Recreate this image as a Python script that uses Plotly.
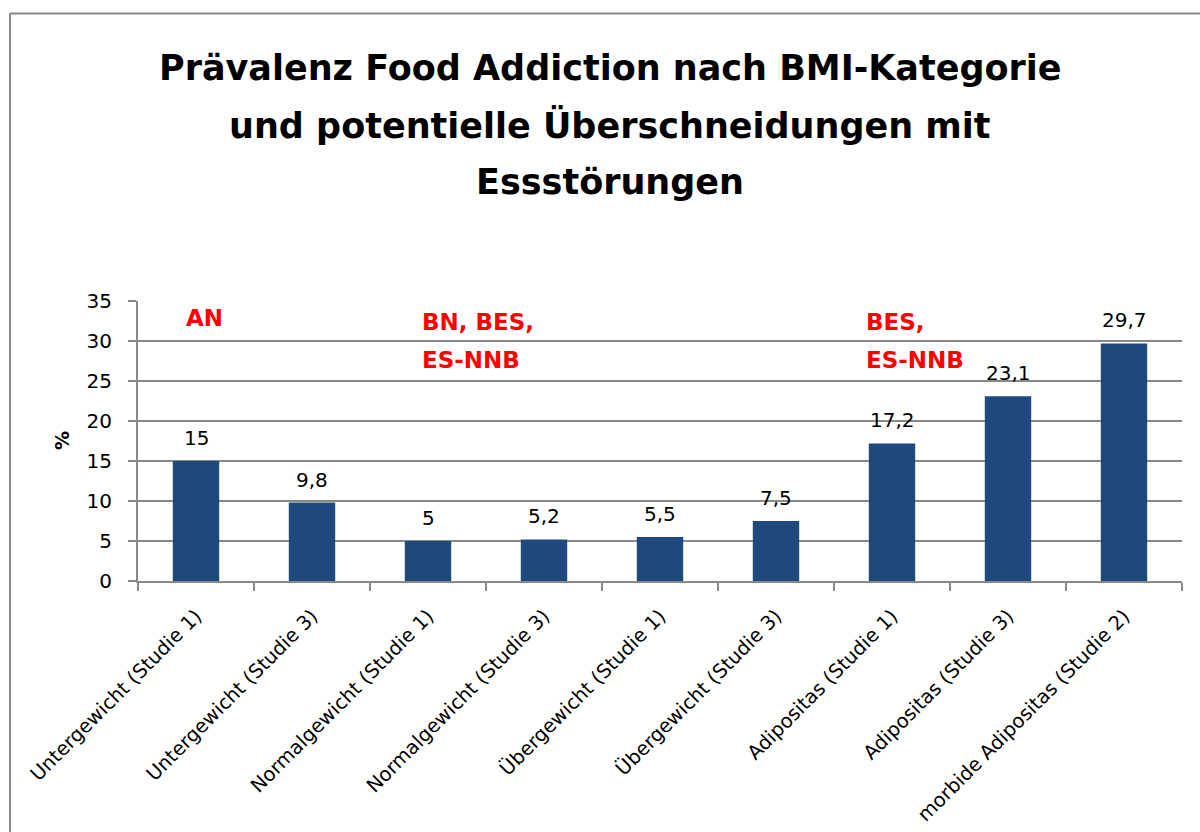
import plotly.graph_objects as go

# Food-addiction prevalence per BMI category (values in %)
categories = [
    "Untergewicht (Studie 1)",
    "Untergewicht (Studie 3)",
    "Normalgewicht (Studie 1)",
    "Normalgewicht (Studie 3)",
    "Übergewicht (Studie 1)",
    "Übergewicht (Studie 3)",
    "Adipositas (Studie 1)",
    "Adipositas (Studie 3)",
    "morbide Adipositas (Studie 2)",
]
prevalence = [15, 9.8, 5, 5.2, 5.5, 7.5, 17.2, 23.1, 29.7]
value_labels = ["15", "9,8", "5", "5,2", "5,5", "7,5", "17,2", "23,1", "29,7"]

y_ticks = [0, 5, 10, 15, 20, 25, 30, 35]

title_lines = [
    "Prävalenz Food Addiction nach BMI-Kategorie",
    "und potentielle Überschneidungen mit",
    "Essstörungen",
]

# Eating-disorder overlap notes: (text lines, left x position on category axis, y values)
overlap_notes = [
    (["AN"], -0.10, [32.9]),
    (["BN, BES,", "ES-NNB"], 1.93, [32.4, 27.6]),
    (["BES,", "ES-NNB"], 5.76, [32.4, 27.6]),
]

FONT = "DejaVu Sans"
BAR_COLOR = "#1F497D"
GRID = "#898989"

plot_left, plot_right = 138, 1182
plot_top, plot_bottom = 301, 581.5
pw = plot_right - plot_left
ph = plot_bottom - plot_top


def py_to_paper(py):
    return (plot_bottom - py) / ph


def px_to_paper(px):
    return (px - plot_left) / pw


fig = go.Figure(
    go.Bar(
        x=categories,
        y=prevalence,
        marker=dict(color=BAR_COLOR, line=dict(width=0)),
        width=0.4,
        hoverinfo="x+y",
    )
)

annotations = []

# title, one annotation per line
for i, line in enumerate(title_lines):
    annotations.append(dict(
        x=px_to_paper(610), y=py_to_paper(68 + 57 * i), xref="paper", yref="paper",
        text=f"<b>{line}</b>", showarrow=False, xanchor="center", yanchor="middle",
        font=dict(family=FONT, size=35, color="black"),
    ))

for cat, val, lab in zip(categories, prevalence, value_labels):
    annotations.append(dict(
        x=cat, y=val, xref="x", yref="y", text=lab, showarrow=False,
        yanchor="bottom", yshift=9,
        font=dict(family=FONT, size=20, color="black"),
    ))

for lines, xpos, ys in overlap_notes:
    for line, yv in zip(lines, ys):
        annotations.append(dict(
            x=xpos, y=yv, xref="x", yref="y", text=f"<b>{line}</b>",
            showarrow=False, xanchor="left", yanchor="middle",
            font=dict(family=FONT, size=23, color="#ff0000"),
        ))

# y-axis title
annotations.append(dict(
    x=px_to_paper(62), y=0.5, xref="paper", yref="paper", text="<b>%</b>",
    showarrow=False, textangle=-90, xanchor="center", yanchor="middle",
    font=dict(family=FONT, size=19, color="black"),
))

# chart-area frame (left and top edges)
fx = px_to_paper(10)
fy = py_to_paper(13)
shapes = [
    dict(type="line", xref="paper", yref="paper", x0=fx, x1=fx, y0=fy,
         y1=-2, line=dict(color="#888888", width=2)),
    dict(type="line", xref="paper", yref="paper", x0=fx, x1=1.5, y0=fy,
         y1=fy, line=dict(color="#888888", width=2)),
]

fig.update_layout(
    width=1200,
    height=832,
    paper_bgcolor="white",
    plot_bgcolor="white",
    margin=dict(l=plot_left, r=1200 - plot_right, t=plot_top, b=832 - plot_bottom,
                pad=0, autoexpand=False),
    showlegend=False,
    bargap=0.6,
    xaxis=dict(
        type="category",
        automargin=False,
        tickangle=-45,
        tickfont=dict(family=FONT, size=19.5, color="black"),
        showline=True, linecolor=GRID, linewidth=2,
        ticks="outside", tickson="boundaries", ticklen=8, tickcolor=GRID, tickwidth=2,
        ticklabelstandoff=14,
        showgrid=False,
        range=[-0.5, len(categories) - 0.5],
    ),
    yaxis=dict(
        automargin=False,
        range=[0, 35],
        tickvals=y_ticks,
        tickfont=dict(family=FONT, size=20, color="black"),
        showline=True, linecolor=GRID, linewidth=2,
        ticks="outside", ticklen=8, tickcolor=GRID, tickwidth=2,
        ticklabelstandoff=12,
        showgrid=True, gridcolor=GRID, gridwidth=2,
        zeroline=False,
    ),
    annotations=annotations,
    shapes=shapes,
)

fig.write_html("out.html")
